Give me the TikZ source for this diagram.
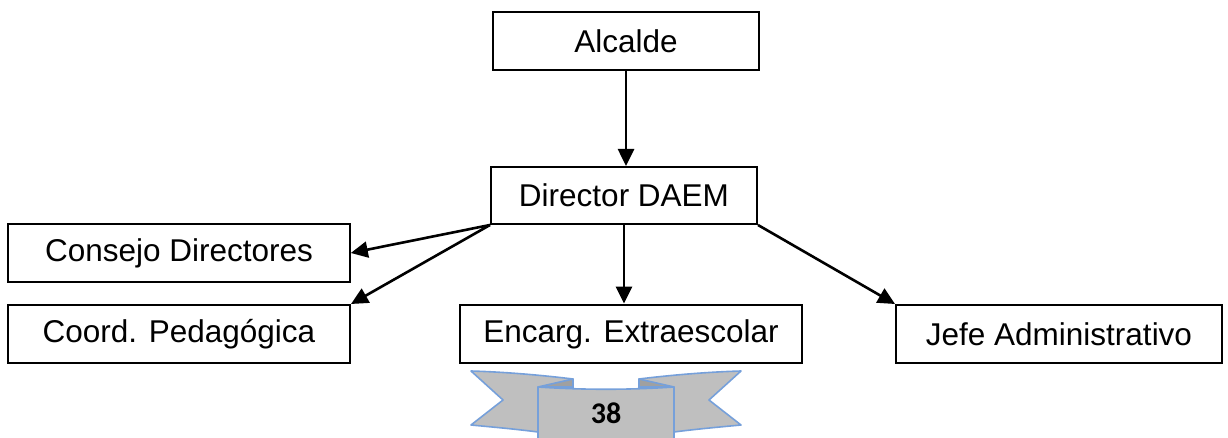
\documentclass[tikz,border=0pt]{standalone}
\usepackage{fontspec}
\setmainfont{Liberation Sans}
\newfontfamily\ribbonfont{Carlito}
\usetikzlibrary{arrows.meta}
\definecolor{ribgray}{RGB}{191,191,191}
\definecolor{ribdark}{RGB}{160,160,160}
\definecolor{ribblue}{RGB}{118,160,218}
\begin{document}
\begin{tikzpicture}[x=1pt,y=-1pt,
  box/.style={draw=black,line width=2pt,fill=white,inner sep=0pt,font=\fontsize{31.5}{36}\selectfont},
  conn/.style={line width=2.6pt,-{Triangle[length=17pt,width=16pt]}},
  rib/.style={draw=ribblue,line width=1.6pt,line join=round}]
\useasboundingbox (0,0) rectangle (1228,438);
\node[box,minimum width=266pt,minimum height=58pt] (alc) at (626,41) {Alcalde};
\node[box,minimum width=266pt,minimum height=57pt] (dir) at (624,195.5) {Director DAEM};
\node[box,line width=1.6pt,minimum width=342pt,minimum height=58pt] (con) at (179,253) {Consejo Directores};
\node[box,minimum width=342pt,minimum height=58pt] (coo) at (179,334) {Coord. Pedagógica};
\node[box,line width=2.8pt,minimum width=342pt,minimum height=58pt] (enc) at (631,334) {Encarg. Extraescolar};
\node[box,minimum width=326pt,minimum height=58pt] (jef) at (1059,334) {Jefe Administrativo};
\draw[conn] (alc.south) -- (alc.south |- dir.north);
\draw[conn] (dir.south west) -- (con.east);
\draw[conn] (dir.south west) -- (coo.north east);
\draw[conn] (dir.south) -- (dir.south |- enc.north);
\draw[conn] (dir.south east) -- (jef.north west);
% ribbon
\draw[rib,fill=ribgray] (471,371) .. controls (505,372) and (540,375) .. (573,379) -- (573,420) -- (538,432) .. controls (515,429) and (492,427) .. (471,425) -- (503,400) -- cycle;
\draw[rib,fill=ribgray] (741,371) .. controls (707,372) and (672,375) .. (639,379) -- (639,420) -- (674,432) .. controls (697,429) and (720,427) .. (741,425) -- (709,400) -- cycle;
\draw[rib,fill=ribdark] (538,387) -- (573,379) -- (573,387) -- cycle;
\draw[rib,fill=ribdark] (674,387) -- (639,379) -- (639,387) -- cycle;
\draw[rib,fill=ribgray] (538,445) -- (538,387) .. controls (583,390) and (629,390) .. (674,387) -- (674,445);
\node[font=\ribbonfont\bfseries\fontsize{30}{34}\selectfont,inner sep=0pt] (num) at (606,413) {38};
\end{tikzpicture}
\end{document}
